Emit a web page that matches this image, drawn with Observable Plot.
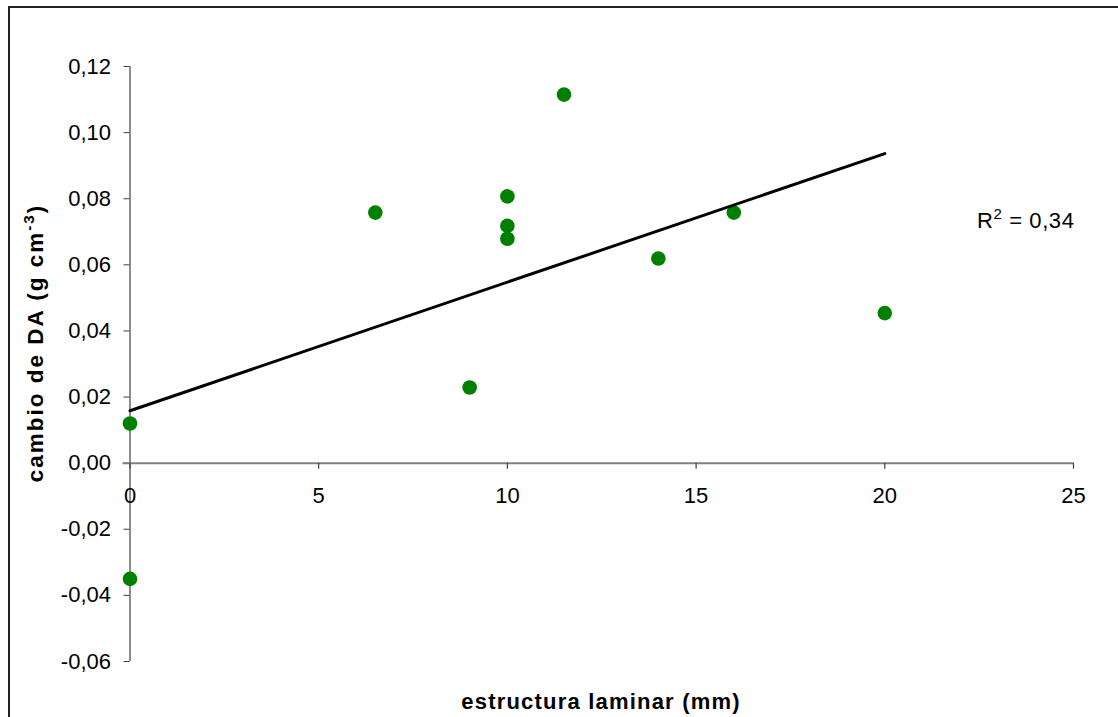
<!DOCTYPE html>
<html>
<head>
<meta charset="utf-8">
<script src="https://cdn.jsdelivr.net/npm/d3@7"></script>
<script src="https://cdn.jsdelivr.net/npm/@observablehq/plot@0.6"></script>
<style>
  html, body { margin: 0; padding: 0; background: #fff; }
  #wrap { position: relative; width: 1118px; height: 717px; overflow: hidden; font-family: "Liberation Sans", Arial, sans-serif; color: #000; }
  #border { position: absolute; left: 8px; top: 6px; width: 1300px; height: 900px; border-left: 2px solid #222; border-top: 2px solid #222; }
  #chart { position: absolute; left: 0; top: 0; }
  .lbl { position: absolute; white-space: nowrap; }
  #xtitle { left: 601px; top: 702px; transform: translate(-50%, -50%); font-weight: bold; font-size: 22px; letter-spacing: 1.2px; }
  #ytitle { left: 36px; top: 343px; transform: translate(-50%, -50%) rotate(-90deg); font-weight: bold; font-size: 22.5px; letter-spacing: 2px; }
  #r2 { left: 977px; top: 221px; transform: translate(0, -50%); font-size: 22px; letter-spacing: 0.6px; }
  sup { font-size: 0.68em; vertical-align: 0.6em; line-height: 0; }
</style>
</head>
<body>
<div id="wrap">
  <div id="border"></div>
  <div id="chart"></div>
  <div class="lbl" id="xtitle">estructura laminar (mm)</div>
  <div class="lbl" id="ytitle">cambio de DA (g cm<sup>-3</sup>)</div>
  <div class="lbl" id="r2">R<sup>2</sup> = 0,34</div>
</div>
<script>
// Data
const laminar = [0, 0, 6.5, 9, 10, 10, 10, 11.5, 14, 16, 20];
const cambioDA = [0.012, -0.035, 0.0758, 0.0229, 0.0807, 0.0718, 0.0679, 0.1115, 0.0619, 0.0758, 0.0454];
const xTicks = [0, 5, 10, 15, 20, 25];
const yTicks = [-0.06, -0.04, -0.02, 0, 0.02, 0.04, 0.06, 0.08, 0.10, 0.12];

const points = laminar.map((x, i) => ({x, y: cambioDA[i]}));
const fmt = d => d.toFixed(2).replace(".", ",");

const chart = Plot.plot({
  width: 1118,
  height: 717,
  marginLeft: 129.5,
  marginRight: 45,
  marginTop: 66,
  marginBottom: 56,
  style: {fontFamily: "Liberation Sans, Arial, sans-serif", fontSize: "22px", color: "#000", background: "transparent"},
  x: {domain: [0, 25]},
  y: {domain: [-0.06, 0.12]},
  marks: [
    Plot.axisY(yTicks, {tickSize: 6, tickPadding: 13, tickFormat: fmt, fontSize: 22, label: null, stroke: "#404040", fill: "#000"}),
    Plot.axisX([], {label: null, tickSize: 0}),
    Plot.ruleX([0], {stroke: "#404040", strokeWidth: 1.2}),
    Plot.ruleY([0], {stroke: "#808080", strokeWidth: 2, insetLeft: -7}),
    Plot.ruleX(xTicks, {x: d => d, y1: () => 0, y2: () => 0, insetBottom: -6, stroke: "#404040", strokeWidth: 1.2}),
    Plot.text(xTicks, {x: d => d, y: () => 0, dy: 33, text: d => String(d), fontSize: 22, fill: "#000"}),
    Plot.dot(points, {x: "x", y: "y", r: 7.3, fill: "#008000"}),
    Plot.linearRegressionY(points, {x: "x", y: "y", ci: 0, stroke: "#000", strokeWidth: 3})
  ]
});
document.getElementById("chart").appendChild(chart);
</script>
</body>
</html>
